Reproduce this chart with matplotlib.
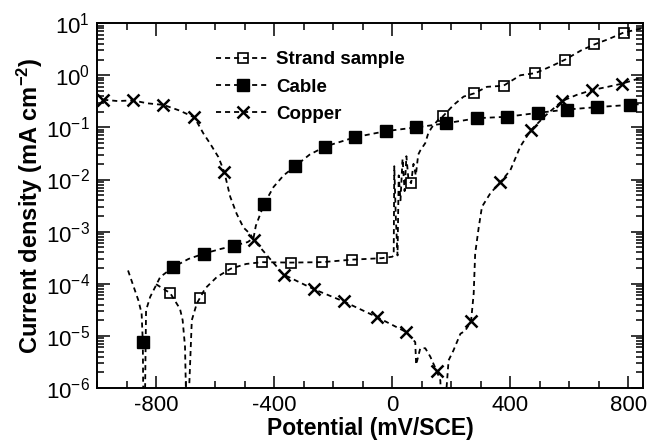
import matplotlib
matplotlib.use("Agg")
import matplotlib.pyplot as plt
from matplotlib.ticker import MultipleLocator, LogLocator, NullFormatter

plt.rcParams['font.family'] = ['Liberation Sans', 'DejaVu Sans']
plt.rcParams['mathtext.fontset'] = 'custom'
plt.rcParams['mathtext.rm'] = 'Liberation Sans'
plt.rcParams['mathtext.it'] = 'Liberation Sans:italic'
plt.rcParams['mathtext.bf'] = 'Liberation Sans:bold'
plt.rcParams['axes.unicode_minus'] = False

# strand sample: curve and marker points (mV, mA cm-2)
strand_x = [-800, -752, -719, -710, -702, -698, -690, -679, -662, -651, -634, -594,
            -547, -495, -442, -343, -238, -137, -35, 0, 5, 7, 12, 18, 22, 28, 35, 42,
            48, 55, 64, 72, 80, 88, 95, 112, 122, 134, 156, 172, 208, 242, 278, 321,
            377, 434, 485, 540, 586, 640, 685, 735, 784, 850]
strand_y = [9.8e-5, 6.6e-5, 3.3e-5, 2e-5, 6.2e-6, 5e-7, 5e-7, 2e-5, 4.2e-5, 5.4e-5,
            8.1e-5, 1.35e-4, 1.95e-4, 2.4e-4, 2.6e-4, 2.55e-4, 2.6e-4, 2.9e-4, 3.1e-4,
            3.3e-4, 3.5e-4, 1.8e-2, 2e-3, 3.5e-4, 1.2e-2, 4e-3, 2.5e-2, 6e-3, 2.8e-2,
            1e-2, 8.5e-3, 2e-2, 1.2e-2, 3e-2, 0.036, 0.05, 0.077, 0.10, 0.14, 0.164,
            0.27, 0.39, 0.45, 0.6, 0.63, 1.0, 1.1, 1.5, 2.0, 3.0, 3.9, 5.0, 6.6, 8.0]
strand_mx = [-752, -651, -547, -442, -343, -238, -137, -35, 64, 172, 278, 377, 485, 586, 685, 784]
strand_my = [6.6e-5, 5.4e-5, 1.95e-4, 2.6e-4, 2.55e-4, 2.6e-4, 2.9e-4, 3.1e-4, 8.5e-3,
             0.164, 0.45, 0.63, 1.1, 2.0, 3.9, 6.6]

# cable
cable_x = [-895, -860, -849, -845, -843, -838, -834, -820, -786, -741, -690, -637, -585,
           -535, -490, -470, -462, -434, -402, -368, -329, -280, -227, -125, -20, 81,
           183, 287, 389, 493, 592, 694, 804, 845]
cable_y = [1.8e-4, 4.8e-5, 2.7e-5, 7.6e-6, 4e-7, 4e-7, 3.1e-5, 5.6e-5, 1.35e-4, 2.1e-4,
           3e-4, 3.8e-4, 4.6e-4, 5.4e-4, 6.3e-4, 7.5e-4, 1.3e-3, 3.4e-3, 7.2e-3, 0.012,
           0.018, 0.030, 0.043, 0.065, 0.085, 0.10, 0.12, 0.15, 0.16, 0.19, 0.22, 0.245,
           0.27, 0.28]
cable_mx = [-845, -741, -637, -535, -434, -329, -227, -125, -20, 81, 183, 287, 389, 493, 592, 694, 804]
cable_my = [7.6e-6, 2.1e-4, 3.8e-4, 5.4e-4, 3.4e-3, 0.018, 0.043, 0.065, 0.085, 0.10,
            0.12, 0.15, 0.16, 0.19, 0.22, 0.245, 0.27]

# copper
copper_x = [-979, -930, -879, -830, -775, -720, -670, -640, -617, -589, -569, -549, -527,
            -504, -481, -468, -368, -264, -165, -52, 47, 78, 81, 95, 112, 129, 151, 163,
            166, 180, 191, 207, 231, 247, 267, 276, 281, 293, 304, 332, 366, 400, 434,
            470, 520, 575, 625, 677, 730, 778, 840]
copper_y = [0.34, 0.32, 0.33, 0.29, 0.27, 0.21, 0.155, 0.077, 0.049, 0.027, 0.014, 4.7e-3,
            2.2e-3, 1.2e-3, 9e-4, 6.8e-4, 1.5e-4, 7.8e-5, 4.6e-5, 2.3e-5, 1.19e-5, 7.6e-6,
            2.8e-6, 5.8e-6, 5.8e-6, 4e-6, 2.1e-6, 1.4e-6, 5e-7, 5e-7, 3.4e-6, 5.2e-6,
            1.1e-5, 1.25e-5, 1.9e-5, 6.5e-5, 3.8e-4, 1.2e-3, 3e-3, 5.4e-3, 8.9e-3, 0.015,
            0.043, 0.089, 0.17, 0.32, 0.42, 0.52, 0.6, 0.69, 0.88]
copper_mx = [-979, -879, -775, -670, -569, -468, -368, -264, -165, -52, 47, 151, 267, 366, 470, 575, 677, 778]
copper_my = [0.34, 0.33, 0.27, 0.155, 0.014, 6.8e-4, 1.5e-4, 7.8e-5, 4.6e-5, 2.3e-5,
             1.19e-5, 2.1e-6, 1.9e-5, 8.9e-3, 0.089, 0.32, 0.52, 0.69]

dash = (0, (2.8, 2.2))

fig = plt.figure(figsize=(6.47, 4.45), dpi=100)
ax = fig.add_axes([0.150, 0.128, 0.844, 0.820])

# curves
ax.plot(strand_x, strand_y, color='black', lw=1.3, ls=dash)
ax.plot(cable_x, cable_y, color='black', lw=1.3, ls=dash)
ax.plot(copper_x, copper_y, color='black', lw=1.3, ls=dash)

# markers
ax.plot(strand_mx, strand_my, ls='none', marker='s', ms=7, mfc='none', mec='black', mew=1.2)
ax.plot(cable_mx, cable_my, ls='none', marker='s', ms=8, color='black')
ax.plot(copper_mx, copper_my, ls='none', marker='x', ms=9, mew=1.8, color='black')

# legend proxies
ax.plot([], [], color='black', lw=1.3, ls=dash, marker='s', ms=7, mfc='none', mec='black',
        mew=1.2, label='Strand sample')
ax.plot([], [], color='black', lw=1.3, ls=dash, marker='s', ms=8, label='Cable')
ax.plot([], [], color='black', lw=1.3, ls=dash, marker='x', ms=9, mew=1.8, label='Copper')
ax.legend(loc='upper left', bbox_to_anchor=(0.187, 0.97), frameon=False, numpoints=1,
          handlelength=2.9, handletextpad=0.3, labelspacing=0.55,
          prop={'weight': 'bold', 'size': 13.5})

ax.set_yscale('log')
ax.set_xlim(-1000, 850)
ax.set_ylim(1e-6, 10)
ax.xaxis.set_major_locator(MultipleLocator(400))
ax.xaxis.set_minor_locator(MultipleLocator(100))
ax.yaxis.set_major_locator(LogLocator(base=10, numticks=20))
ax.yaxis.set_minor_locator(LogLocator(base=10, subs=range(2, 10), numticks=20))
ax.yaxis.set_minor_formatter(NullFormatter())

ax.tick_params(which='both', direction='in', top=True, right=True, width=1.1)
ax.tick_params(which='major', length=9, labelsize=16, pad=5)
ax.tick_params(which='minor', length=5)
for s in ax.spines.values():
    s.set_linewidth(1.4)

ax.set_xlabel('Potential (mV/SCE)', fontsize=16.5, fontweight='bold', labelpad=1)
ax.set_ylabel('Current density (mA cm$^{\\mathbf{-2}}$)', fontsize=17, fontweight='bold', labelpad=1)

fig.savefig('out.png', dpi=100)
